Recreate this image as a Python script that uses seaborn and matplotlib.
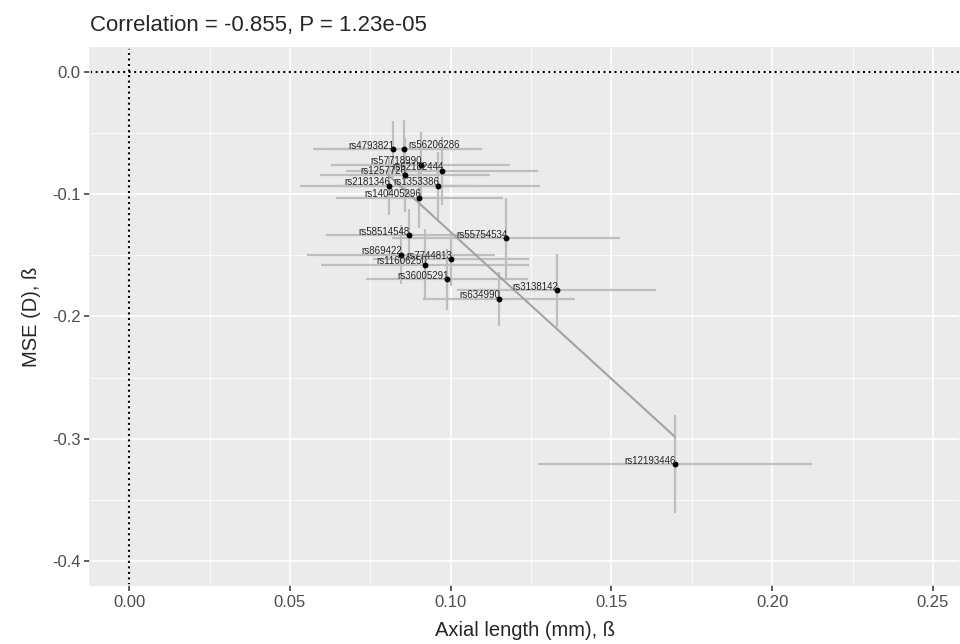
import matplotlib
matplotlib.use("Agg")
import matplotlib.pyplot as plt
import numpy as np
import pandas as pd
import seaborn as sns
from matplotlib.ticker import MultipleLocator

# SNP effects: beta on axial length (x) and on MSE (y)
snps = ["rs4793821", "rs56206286", "rs57718990", "rs62182444", "rs1257726",
        "rs2181346", "rs1353386", "rs140405296", "rs58514548", "rs55754534",
        "rs869422", "rs7744813", "rs11606250", "rs36005291", "rs3138142",
        "rs634990", "rs12193446"]
beta_al = [0.0822, 0.0856, 0.0907, 0.0973, 0.0858,
           0.0807, 0.0960, 0.0903, 0.0869, 0.1172,
           0.0846, 0.1001, 0.0921, 0.0989, 0.1330,
           0.1150, 0.1697]
beta_mse = [-0.0631, -0.0628, -0.0757, -0.0809, -0.0842,
            -0.0932, -0.0932, -0.1027, -0.1333, -0.1358,
            -0.1495, -0.1533, -0.1577, -0.1697, -0.1787,
            -0.1855, -0.3208]
# half widths of the 95% CI bars
ci_al = [0.0249, 0.0240, 0.0278, 0.0300, 0.0264,
         0.0276, 0.0318, 0.0261, 0.0256, 0.0356,
         0.0293, 0.0244, 0.0323, 0.0252, 0.0310,
         0.0236, 0.0426]
ci_mse = [0.0230, 0.0235, 0.0268, 0.0279, 0.0300,
          0.0238, 0.0280, 0.0250, 0.0210, 0.0330,
          0.0240, 0.0220, 0.0290, 0.0250, 0.0300,
          0.0220, 0.0400]

df = pd.DataFrame({"snp": snps, "al": beta_al, "mse": beta_mse,
                   "ci_al": ci_al, "ci_mse": ci_mse})

sns.set_theme(style="darkgrid", rc={
    "axes.facecolor": "#EBEBEB",
    "grid.color": "white",
    "axes.edgecolor": "#EBEBEB",
    "xtick.bottom": True,
    "ytick.left": True,
    "xtick.color": "#333333",
    "ytick.color": "#333333",
    "xtick.major.size": 4,
    "ytick.major.size": 4,
})
plt.rcParams["font.family"] = ["Liberation Sans", "DejaVu Sans"]

fig, ax = plt.subplots(figsize=(9.6, 6.44), dpi=100)
fig.subplots_adjust(left=0.094, right=1.0, top=0.9255, bottom=0.0916)

# reference lines at zero
ax.axhline(0, color="black", linestyle=":", linewidth=1.5, zorder=1)
ax.axvline(0, color="black", linestyle=":", linewidth=1.5, zorder=1)

# confidence intervals
ax.errorbar(df["al"], df["mse"], xerr=df["ci_al"], yerr=df["ci_mse"],
            fmt="none", ecolor="#BEBEBE", elinewidth=1.6, capsize=0, zorder=2)

# fitted line
sns.regplot(data=df, x="al", y="mse", ax=ax, scatter=False, ci=None,
            truncate=True, color="#A3A3A3", line_kws={"linewidth": 1.5, "zorder": 3})

sns.scatterplot(data=df, x="al", y="mse", ax=ax, color="black", s=18,
                edgecolor="black", linewidth=0, zorder=4)

for _, r in df.iterrows():
    if r["snp"] == "rs56206286":
        ax.annotate(r["snp"], (r["al"], r["mse"]), xytext=(3, 2.5),
                    textcoords="offset points", fontsize=7,
                    ha="left", va="center", zorder=5)
    else:
        ax.annotate(r["snp"], (r["al"], r["mse"]), xytext=(1, 2.5),
                    textcoords="offset points", fontsize=7,
                    ha="right", va="center", zorder=5)

ax.set_xlim(-0.0121, 0.2584)
ax.set_ylim(-0.4197, 0.0197)
ax.xaxis.set_major_locator(MultipleLocator(0.05))
ax.xaxis.set_minor_locator(MultipleLocator(0.025))
ax.yaxis.set_major_locator(MultipleLocator(0.1))
ax.yaxis.set_minor_locator(MultipleLocator(0.05))
ax.xaxis.set_major_formatter(plt.FuncFormatter(lambda v, p: f"{v:.2f}"))
ax.yaxis.set_major_formatter(plt.FuncFormatter(lambda v, p: f"{v:.1f}"))
ax.grid(which="major", color="white", linewidth=1.2)
ax.grid(which="minor", color="white", linewidth=0.6)
ax.tick_params(axis="both", which="major", labelsize=12, labelcolor="#4D4D4D",
               color="#333333", width=1.1, length=4, pad=3)
ax.tick_params(axis="both", which="minor", length=0)

ax.set_xlabel("Axial length (mm), ß", fontsize=14.5, labelpad=8)
ax.set_ylabel("MSE (D), ß", fontsize=14.5, labelpad=8)
ax.set_title("Correlation = -0.855, P = 1.23e-05", fontsize=16, loc="left", pad=12)

fig.savefig("out.png", dpi=100)
